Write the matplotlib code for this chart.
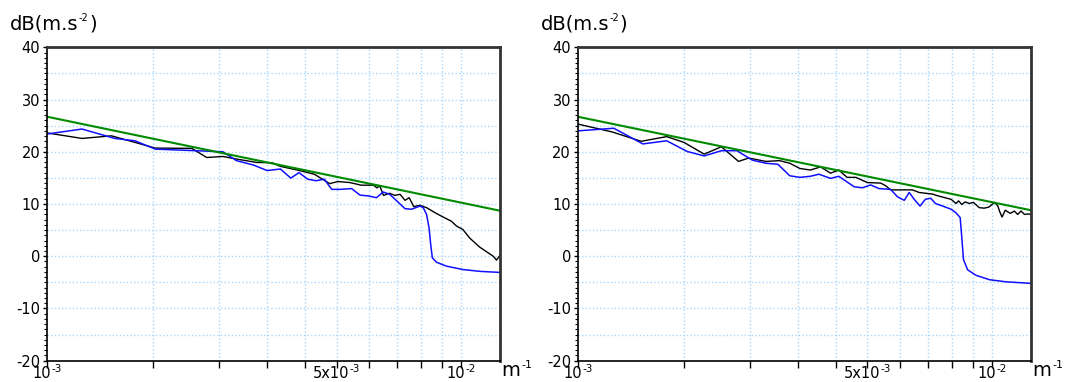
import numpy as np
import matplotlib
matplotlib.use("Agg")
import matplotlib.pyplot as plt
from matplotlib.ticker import MultipleLocator, NullLocator

plt.rcParams['axes.unicode_minus'] = False

# wavenumber in units of 1e-3 m^-1, level in dB
x_min, x_max = 1.0, 12.42

left_black_x = [1.000, 1.213, 1.429, 1.824, 2.234, 2.427, 2.655, 2.864, 3.206, 3.491,
                3.656, 4.018, 4.416, 4.808, 5.035, 5.383, 5.728, 6.138, 6.252, 6.353,
                6.486, 6.714, 6.902, 7.112, 7.311, 7.482, 7.674, 7.943, 8.241, 8.630,
                9.036, 9.462, 9.727, 10.09, 10.47, 11.07, 11.61, 11.94, 12.16, 12.39]
left_black_y = [23.6, 22.55, 23.05, 20.7, 20.65, 18.9, 19.1, 18.6, 17.95, 17.9,
                17.2, 16.5, 15.7, 13.9, 14.3, 14.1, 13.6, 13.6, 13.1, 13.45,
                11.65, 12.05, 11.65, 11.85, 10.7, 11.2, 9.5, 9.75, 9.3, 8.35,
                7.5, 6.7, 5.8, 5.1, 3.5, 1.75, 0.65, 0.0, -0.75, 0.15]

left_blue_x = [1.000, 1.213, 1.377, 1.455, 1.629, 1.824, 2.123, 2.655, 2.864, 3.148,
               3.396, 3.656, 3.873, 4.055, 4.256, 4.457, 4.667, 4.864, 5.093, 5.433,
               5.689, 5.957, 6.237, 6.471, 6.714, 6.982, 7.311, 7.586, 7.943, 8.091,
               8.241, 8.356, 8.433, 8.511, 8.710, 9.204, 10.09, 11.09, 12.39]
left_blue_y = [23.4, 24.35, 23.1, 22.55, 22.1, 20.5, 20.3, 20.0, 18.3, 17.45,
               16.4, 16.7, 14.95, 16.0, 14.75, 14.45, 14.75, 12.8, 12.8, 12.95,
               11.7, 11.55, 11.2, 12.3, 11.85, 10.6, 9.1, 9.0, 9.6, 9.3,
               8.0, 5.45, 2.25, -0.3, -1.15, -1.9, -2.55, -2.9, -3.1]

right_black_x = [1.000, 1.209, 1.422, 1.638, 1.803, 2.018, 2.221, 2.443, 2.585, 2.844,
                 3.069, 3.248, 3.436, 3.639, 3.855, 4.074, 4.266, 4.467, 4.688, 5.000,
                 5.383, 5.534, 5.689, 6.427, 6.668, 7.178, 7.447, 7.962, 8.185, 8.299,
                 8.453, 8.610, 8.810, 9.016, 9.311, 9.572, 9.817, 10.14, 10.33, 10.42,
                 10.57, 10.76, 11.07, 11.32, 11.53, 11.75, 11.97, 12.19, 12.42]
right_black_y = [25.3, 23.8, 22.0, 22.9, 21.8, 19.55, 20.95, 18.15, 18.8, 18.15,
                 18.3, 17.8, 16.8, 16.5, 17.1, 15.9, 16.5, 15.1, 15.1, 14.1,
                 14.0, 13.5, 12.7, 12.7, 12.2, 11.9, 11.5, 10.9, 10.1, 10.6,
                 9.9, 10.4, 10.1, 10.3, 9.3, 9.2, 9.4, 10.3, 9.6, 8.65,
                 7.5, 8.8, 8.2, 8.65, 8.0, 8.65, 8.0, 8.1, 8.0]

right_blue_x = [1.000, 1.221, 1.435, 1.638, 1.837, 2.018, 2.221, 2.421, 2.636, 2.844,
                3.041, 3.248, 3.436, 3.639, 3.819, 4.074, 4.266, 4.645, 4.864, 5.093,
                5.333, 5.689, 5.916, 6.138, 6.310, 6.486, 6.699, 6.902, 7.112, 7.295,
                7.603, 7.962, 8.185, 8.375, 8.453, 8.531, 8.730, 9.141, 9.863, 10.81,
                12.42]
right_blue_y = [24.0, 24.5, 21.5, 22.1, 20.05, 19.2, 20.2, 20.2, 18.4, 17.8,
                17.6, 15.4, 15.1, 15.3, 15.7, 14.9, 15.3, 13.3, 13.1, 13.65,
                12.95, 12.8, 11.35, 10.7, 12.2, 10.9, 9.6, 10.9, 11.1, 10.1,
                9.6, 9.0, 8.3, 7.4, 3.5, -0.65, -2.6, -3.65, -4.5, -4.9,
                -5.2]

# -5/3 reference slope, end points
green_x = [1.0, 12.42]
left_green_y = [26.7, 8.7]
right_green_y = [26.7, 8.8]

tick_pos = [1.0, 1.8, 2.6, 3.4, 4.2, 5.0, 6.0, 7.0, 8.0, 9.0, 10.0]
# labelled ticks: (position, base, exponent)
tick_labels = [(1.0, '10', '-3'), (5.0, '5x10', '-3'), (10.0, '10', '-2')]

grid_col = '#a6d8ff'
dots = (0, (1, 1.6))


def label_with_exp(ax, x, base, exp, size, exp_size, dy, exp_dy, dx=0.0):
    # text + small raised exponent, placed below the x axis
    tr = ax.get_xaxis_transform()
    t1 = ax.annotate(base, xy=(x, 0), xycoords=tr, xytext=(dx, dy),
                     textcoords='offset points', fontsize=size,
                     ha='center', va='baseline', annotation_clip=False)
    ax.annotate(exp, xy=(1, 0), xycoords=(t1, tr), xytext=(0.3, dy + exp_dy),
                textcoords='offset points', fontsize=exp_size,
                ha='left', va='baseline', annotation_clip=False)


fig = plt.figure(figsize=(10.67, 3.82), dpi=100)
ax1 = fig.add_axes([0.0443, 0.0558, 0.4246, 0.8204])
ax2 = fig.add_axes([0.5416, 0.0558, 0.4247, 0.8204])

panels = [(ax1, left_black_x, left_black_y, left_blue_x, left_blue_y, left_green_y),
          (ax2, right_black_x, right_black_y, right_blue_x, right_blue_y, right_green_y)]

for ax, bx, by, ux, uy, gy in panels:
    ax.set_xscale('log')
    ax.set_xlim(x_min * 1e-3, x_max * 1e-3)
    ax.set_ylim(-20, 40)

    for v in np.arange(-15, 40, 5):
        ax.axhline(v, color=grid_col, lw=1, ls=dots, zorder=0)
    for t in tick_pos[1:]:
        ax.axvline(t * 1e-3, color=grid_col, lw=1, ls=dots, zorder=0)

    ax.plot(np.array(bx) * 1e-3, by, color='black', lw=1)
    ax.plot(np.array(ux) * 1e-3, uy, color='#1010ff', lw=1.1)
    ax.plot(np.array(green_x) * 1e-3, gy, color='#008a00', lw=1.5)

    ax.set_xticks(np.array(tick_pos) * 1e-3)
    ax.set_xticklabels([''] * len(tick_pos))
    ax.xaxis.set_minor_locator(NullLocator())
    ax.tick_params(axis='x', direction='out', length=5, width=1)

    for pos, base, exp in tick_labels:
        label_with_exp(ax, pos * 1e-3, base, exp, 10.5, 7.5, -12.7, 4.2, dx=-4)

    ax.yaxis.set_major_locator(MultipleLocator(10))
    ax.yaxis.set_minor_locator(MultipleLocator(1))
    ax.tick_params(axis='y', which='major', direction='out', length=3, width=1,
                   labelsize=10.5, pad=2)
    ax.tick_params(axis='y', which='minor', direction='out', length=2, width=0.8)

    ax.spines['left'].set_color('black')
    ax.spines['bottom'].set_color('black')
    ax.spines['left'].set_linewidth(1.2)
    ax.spines['bottom'].set_linewidth(1.2)
    ax.spines['top'].set_color('#333333')
    ax.spines['right'].set_color('#333333')
    ax.spines['top'].set_linewidth(2)
    ax.spines['right'].set_linewidth(2)

    # y unit label: dB(m.s^-2)
    t1 = ax.annotate('dB(m.s', xy=(-0.0824, 1.056), xycoords='axes fraction',
                     fontsize=14, ha='left', va='baseline', annotation_clip=False)
    t2 = ax.annotate('-2', xy=(1, 1.056), xycoords=(t1, 'axes fraction'),
                     xytext=(0.3, 6.3), textcoords='offset points', fontsize=7,
                     ha='left', va='baseline', annotation_clip=False)
    ax.annotate(')', xy=(1, 1.056), xycoords=(t2, 'axes fraction'),
                xytext=(0.3, 0), textcoords='offset points', fontsize=14,
                ha='left', va='baseline', annotation_clip=False)

    # x unit label: m^-1
    m1 = ax.annotate('m', xy=(1.003, -0.049), xycoords='axes fraction',
                     fontsize=14, ha='left', va='baseline', annotation_clip=False)
    ax.annotate('-1', xy=(1, -0.049), xycoords=(m1, 'axes fraction'),
                xytext=(1.0, 5.5), textcoords='offset points', fontsize=8,
                ha='left', va='baseline', annotation_clip=False)

fig.savefig('out.png', dpi=100)
